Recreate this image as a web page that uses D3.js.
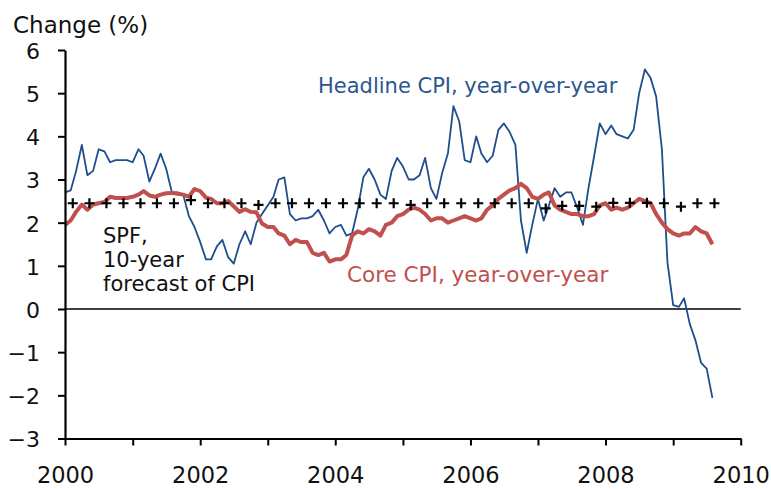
<!DOCTYPE html>
<html>
<head>
<meta charset="utf-8">
<script src="https://cdn.jsdelivr.net/npm/d3@7"></script>
<style>
  body { margin: 0; background: #fff; }
  svg text { font-family: "DejaVu Sans", Verdana, sans-serif; }
</style>
</head>
<body>
<svg id="chart"></svg>
<script>
// monthly values, first one is Dec 1999, plotted at month end
var startMonth = new Date(1999, 11, 1);

var headline = [2.7,
  2.75, 3.2, 3.8, 3.1, 3.2, 3.7, 3.65, 3.4, 3.45, 3.45, 3.45, 3.4,
  3.7, 3.55, 2.95, 3.25, 3.6, 3.25, 2.7, 2.7, 2.65, 2.15, 1.9, 1.55,
  1.15, 1.15, 1.45, 1.6, 1.2, 1.05, 1.5, 1.8, 1.5, 2.0, 2.2, 2.4,
  2.6, 3.0, 3.05, 2.2, 2.05, 2.1, 2.1, 2.15, 2.3, 2.05, 1.75, 1.9,
  1.95, 1.7, 1.75, 2.3, 3.05, 3.25, 3.0, 2.65, 2.55, 3.2, 3.5, 3.3,
  3.0, 3.0, 3.1, 3.5, 2.8, 2.55, 3.15, 3.6, 4.7, 4.35, 3.45, 3.4,
  4.0, 3.6, 3.4, 3.55, 4.15, 4.3, 4.1, 3.8, 2.05, 1.3, 1.95, 2.55,
  2.05, 2.4, 2.8, 2.6, 2.7, 2.7, 2.35, 1.95, 2.8, 3.55, 4.3, 4.05,
  4.25, 4.05, 4.0, 3.95, 4.15, 5.0, 5.55, 5.35, 4.92, 3.7, 1.08, 0.09,
  0.05, 0.25, -0.35, -0.72, -1.25, -1.38, -2.06];

var core = [1.95,
  2.05, 2.25, 2.42, 2.3, 2.42, 2.45, 2.48, 2.6, 2.57, 2.57, 2.57, 2.6,
  2.65, 2.73, 2.63, 2.6, 2.65, 2.68, 2.69, 2.67, 2.65, 2.6, 2.78, 2.73,
  2.58, 2.55, 2.45, 2.45, 2.5, 2.38, 2.25, 2.31, 2.25, 2.24, 1.98, 1.9,
  1.9, 1.75, 1.7, 1.5, 1.6, 1.55, 1.55, 1.3, 1.25, 1.3, 1.1, 1.15,
  1.15, 1.25, 1.7, 1.8, 1.75, 1.85, 1.8, 1.7, 1.95, 2.0, 2.15, 2.2,
  2.3, 2.35, 2.3, 2.2, 2.05, 2.1, 2.1, 2.0, 2.05, 2.1, 2.15, 2.1,
  2.05, 2.1, 2.3, 2.4, 2.55, 2.65, 2.75, 2.8, 2.9, 2.8, 2.6, 2.55,
  2.65, 2.7, 2.4, 2.3, 2.25, 2.2, 2.2, 2.15, 2.15, 2.2, 2.4, 2.45,
  2.3, 2.35, 2.3, 2.35, 2.45, 2.55, 2.5, 2.45, 2.2, 2.0, 1.85, 1.75,
  1.7, 1.75, 1.75, 1.9, 1.8, 1.75, 1.5];

// SPF 10-year CPI forecast, quarterly from 2000 Q1
var spf = [2.45, 2.45, 2.45, 2.45, 2.45, 2.45, 2.45, 2.52,
  2.45, 2.45, 2.45, 2.41, 2.45, 2.45, 2.45, 2.45,
  2.45, 2.45, 2.45, 2.45, 2.41, 2.45, 2.45, 2.45,
  2.45, 2.45, 2.45, 2.45, 2.33, 2.39, 2.39, 2.37,
  2.46, 2.46, 2.46, 2.45, 2.37, 2.45, 2.45];

var yTicks = [-3, -2, -1, 0, 1, 2, 3, 4, 5, 6];
var xYears = d3.range(2000, 2011);

var width = 771, height = 489;
var plotLeft = 65, plotRight = 740.7, plotTop = 50, plotBottom = 438.5;

var svg = d3.select('#chart')
    .attr('width', width)
    .attr('height', height);

var x = d3.scaleTime()
    .domain([new Date(2000, 0, 1), new Date(2010, 0, 1)])
    .range([plotLeft, plotRight]);
var y = d3.scaleLinear()
    .domain([-3, 6])
    .range([plotBottom, plotTop]);

function monthEnd(i) {
    return new Date(startMonth.getFullYear(), startMonth.getMonth() + i + 1, 1);
}
function quarterDate(k) {
    return new Date(2000, 3 * k + 1, 12);
}

// title
svg.append('text')
    .attr('x', 13)
    .attr('y', 33)
    .attr('font-size', '23px')
    .attr('fill', '#111')
    .text('Change (%)');

// zero line
svg.append('line')
    .attr('x1', plotLeft).attr('x2', plotRight)
    .attr('y1', y(0)).attr('y2', y(0))
    .attr('stroke', '#000')
    .attr('stroke-width', 1.6);

var line = d3.line()
    .x((d, i) => x(monthEnd(i)))
    .y(d => y(d));

svg.append('path')
    .datum(headline)
    .attr('d', line)
    .attr('fill', 'none')
    .attr('stroke', '#1f4e8c')
    .attr('stroke-width', 1.8)
    .attr('stroke-linejoin', 'round');

svg.append('path')
    .datum(core)
    .attr('d', line)
    .attr('fill', 'none')
    .attr('stroke', '#c0504d')
    .attr('stroke-width', 4)
    .attr('stroke-linejoin', 'round');

// plus markers
svg.selectAll('.spf')
    .data(spf)
  .enter()
  .append('path')
    .classed('spf', true)
    .attr('d', (d, k) => {
        var cx = x(quarterDate(k)), cy = y(d);
        return 'M' + (cx - 5) + ',' + cy + 'H' + (cx + 5) +
               'M' + cx + ',' + (cy - 5) + 'V' + (cy + 5);
    })
    .attr('stroke', '#000')
    .attr('stroke-width', 2.2);

// axes
var yAxis = d3.axisLeft(y)
    .tickValues(yTicks)
    .tickSize(7)
    .tickSizeOuter(0)
    .tickPadding(18);
var gy = svg.append('g')
    .attr('transform', 'translate(' + plotLeft + ',0)')
    .call(yAxis);
gy.select('.domain').attr('stroke-width', 2.2);
gy.selectAll('.tick line').attr('stroke-width', 2);
gy.selectAll('.tick text')
    .attr('font-size', '22px')
    .attr('font-family', '"DejaVu Sans", Verdana, sans-serif')
    .attr('fill', '#111')
    .attr('dy', '0.38em');

var xAxis = d3.axisBottom(x)
    .tickValues(xYears.map(yr => new Date(yr, 0, 1)))
    .tickFormat(d => d.getFullYear() % 2 === 0 ? d.getFullYear() : '')
    .tickSize(7)
    .tickSizeOuter(0)
    .tickPadding(22);
var gx = svg.append('g')
    .attr('transform', 'translate(0,' + plotBottom + ')')
    .call(xAxis);
gx.select('.domain').attr('stroke-width', 2.2);
gx.selectAll('.tick line').attr('stroke-width', 2);
gx.selectAll('.tick text')
    .attr('font-size', '22.5px')
    .attr('font-family', '"DejaVu Sans", Verdana, sans-serif')
    .attr('fill', '#111');

// labels
svg.append('text')
    .attr('x', 318)
    .attr('y', 93)
    .attr('font-size', '21px')
    .attr('fill', '#2b5690')
    .text('Headline CPI, year-over-year');

svg.append('text')
    .attr('x', 347)
    .attr('y', 282)
    .attr('font-size', '21.5px')
    .attr('fill', '#c0504d')
    .text('Core CPI, year-over-year');

var spfLabel = svg.append('text')
    .attr('x', 103)
    .attr('y', 243)
    .attr('font-size', '21px')
    .attr('fill', '#111');
['SPF,', '10-year', 'forecast of CPI'].forEach((s, i) => {
    spfLabel.append('tspan')
        .attr('x', 103)
        .attr('dy', i === 0 ? 0 : 24)
        .text(s);
});
</script>
</body>
</html>
